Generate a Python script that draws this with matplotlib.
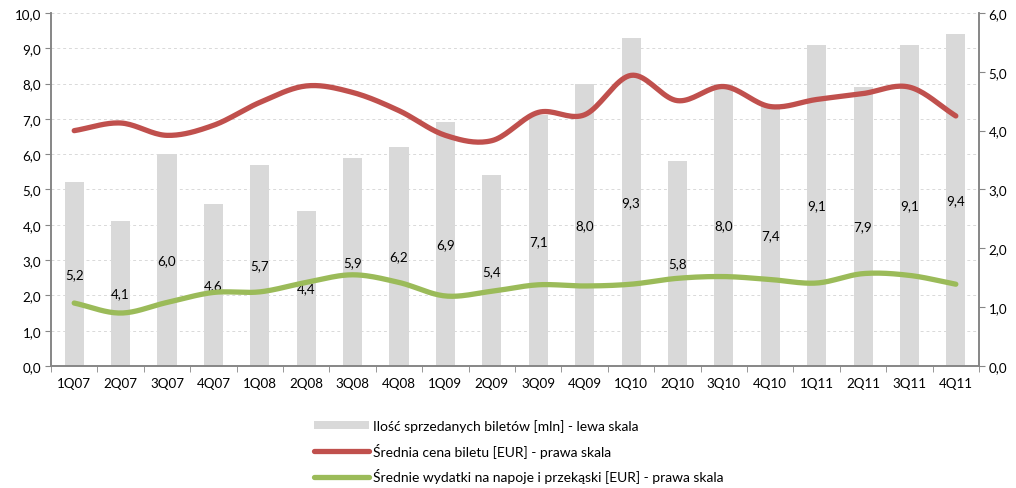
import numpy as np
import matplotlib.pyplot as plt
from matplotlib.ticker import FuncFormatter, FixedLocator

plt.rcParams['font.family'] = ['Lato', 'DejaVu Sans']

quarters = ["1Q07", "2Q07", "3Q07", "4Q07", "1Q08", "2Q08", "3Q08", "4Q08", "1Q09", "2Q09",
            "3Q09", "4Q09", "1Q10", "2Q10", "3Q10", "4Q10", "1Q11", "2Q11", "3Q11", "4Q11"]
tickets = [5.2, 4.1, 6.0, 4.6, 5.7, 4.4, 5.9, 6.2, 6.9, 5.4,
           7.1, 8.0, 9.3, 5.8, 8.0, 7.4, 9.1, 7.9, 9.1, 9.4]
ticket_price = [4.00, 4.13, 3.92, 4.09, 4.48, 4.76, 4.65, 4.34, 3.92, 3.83,
                4.31, 4.27, 4.94, 4.51, 4.75, 4.41, 4.53, 4.63, 4.74, 4.25]
snacks = [1.07, 0.90, 1.08, 1.25, 1.26, 1.42, 1.55, 1.42, 1.19, 1.27,
          1.38, 1.36, 1.39, 1.49, 1.52, 1.47, 1.41, 1.57, 1.54, 1.39]


def smooth(x, y, n=20):
    # Catmull-Rom spline through the points, like a spreadsheet "smoothed line"
    x = np.asarray(x, float)
    y = np.asarray(y, float)
    px = np.concatenate([[2 * x[0] - x[1]], x, [2 * x[-1] - x[-2]]])
    py = np.concatenate([[2 * y[0] - y[1]], y, [2 * y[-1] - y[-2]]])
    xs, ys = [], []
    t = np.linspace(0, 1, n, endpoint=False)
    for i in range(1, len(px) - 2):
        for p, out in ((px, xs), (py, ys)):
            p0, p1, p2, p3 = p[i - 1], p[i], p[i + 1], p[i + 2]
            out.extend(0.5 * ((2 * p1) + (-p0 + p2) * t
                              + (2 * p0 - 5 * p1 + 4 * p2 - p3) * t ** 2
                              + (-p0 + 3 * p1 - 3 * p2 + p3) * t ** 3))
    xs.append(x[-1])
    ys.append(y[-1])
    return np.array(xs), np.array(ys)


comma = FuncFormatter(lambda v, pos: f"{v:.1f}".replace(".", ","))
axis_col = "#868686"
text_col = "#000000"
fs = 9.6

fig = plt.figure(figsize=(10.16, 4.89), dpi=100)
ax = fig.add_axes([0.0502, 0.2495, 0.9134, 0.7219])
ax2 = ax.twinx()

x = np.arange(len(quarters))
bars = ax.bar(x, tickets, width=0.41, color="#d9d9d9", zorder=2,
              label="Ilość sprzedanych biletów [mln] - lewa skala")
for xi, v in zip(x, tickets):
    ax.text(xi, v / 2, f"{v:.1f}".replace(".", ","), ha="center", va="center",
            fontsize=fs, color=text_col, zorder=5)

sx, sy = smooth(x, ticket_price)
l1, = ax2.plot(sx, sy, color="#c0504d", lw=3.8, solid_capstyle="round",
               label="Średnia cena biletu [EUR] - prawa skala")
sx, sy = smooth(x, snacks)
l2, = ax2.plot(sx, sy, color="#9bbb59", lw=3.8, solid_capstyle="round",
               label="Średnie wydatki na napoje i przekąski [EUR] - prawa skala")

ax.set_xlim(-0.5, len(quarters) - 0.5)
ax.set_ylim(0, 10)
ax2.set_ylim(0, 6)
ax.set_yticks(np.arange(0, 10.01, 1))
ax2.set_yticks(np.arange(0, 6.01, 1))
ax.yaxis.set_major_formatter(comma)
ax2.yaxis.set_major_formatter(comma)

ax.set_xticks(x)
ax.set_xticklabels(quarters)
ax.xaxis.set_minor_locator(FixedLocator(np.arange(-0.5, len(quarters), 1)))
ax.tick_params(axis="x", which="major", length=0, pad=8, labelsize=fs)
ax.tick_params(axis="x", which="minor", length=4, color=axis_col, direction="out")
ax.tick_params(axis="y", length=4, color=axis_col, labelsize=fs, pad=3)
ax2.tick_params(axis="y", length=4, color=axis_col, labelsize=fs, pad=3)

ax.grid(axis="y", color="#d9d9d9", linestyle=(0, (3, 3)), lw=0.7, zorder=0)
ax.set_axisbelow(True)

for a in (ax, ax2):
    a.spines["top"].set_visible(False)
    for s in ("left", "right", "bottom"):
        a.spines[s].set_color(axis_col)
        a.spines[s].set_linewidth(1.2)

fig.legend([bars, l1, l2], [bars.get_label(), l1.get_label(), l2.get_label()],
           loc="upper left", bbox_to_anchor=(0.302, 0.155), frameon=False,
           fontsize=10, handlelength=4.0, handleheight=0.5, labelspacing=0.75,
           handletextpad=0.3, borderpad=0)

fig.savefig("out.png", dpi=100)
